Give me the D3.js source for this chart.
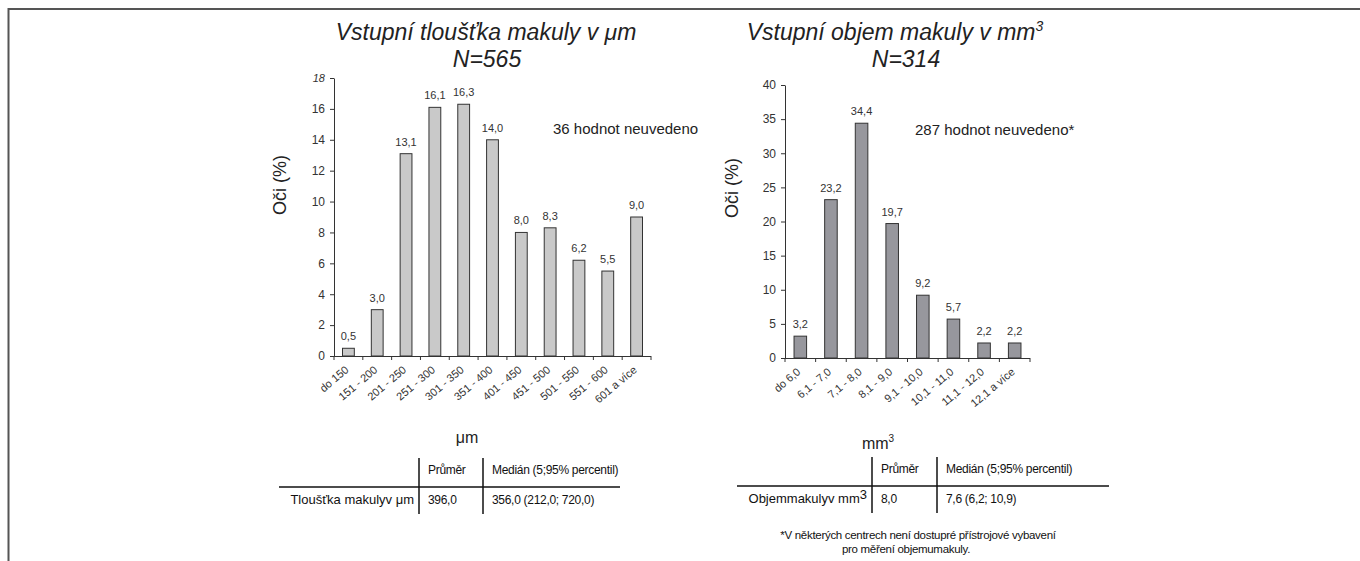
<!DOCTYPE html>
<html>
<head>
<meta charset="utf-8">
<script src="https://cdn.jsdelivr.net/npm/d3@7"></script>
<style>
  body { margin: 0; background: #fff; }
  svg { display: block; font-family: "Liberation Sans", Arial, sans-serif; }
  .axis path, .axis line { stroke: #333; }
  .axis text { fill: #333; }
</style>
</head>
<body>
<svg id="chart" width="1360" height="561"></svg>
<script>
// data
var thicknessCats = ["do 150", "151 - 200", "201 - 250", "251 - 300", "301 - 350", "351 - 400",
                     "401 - 450", "451 - 500", "501 - 550", "551 - 600", "601 a více"];
var thicknessVals = [0.5, 3.0, 13.1, 16.1, 16.3, 14.0, 8.0, 8.3, 6.2, 5.5, 9.0];
var thicknessTicks = [0, 2, 4, 6, 8, 10, 12, 14, 16, 18];

var volumeCats = ["do 6,0", "6,1 - 7,0", "7,1 - 8,0", "8,1 - 9,0", "9,1 - 10,0",
                  "10,1 - 11,0", "11,1 - 12,0", "12,1 a více"];
var volumeVals = [3.2, 23.2, 34.4, 19.7, 9.2, 5.7, 2.2, 2.2];
var volumeTicks = [0, 5, 10, 15, 20, 25, 30, 35, 40];

var svg = d3.select("#chart");

// frame
svg.append("path")
  .attr("d", "M8.5,561 V9 H1360")
  .attr("fill", "none")
  .attr("stroke", "#555")
  .attr("stroke-width", 2);

var fmt = function(d) { return d.toFixed(1).replace(".", ","); };

// draw one bar chart
function drawChart(cfg) {
  var x = d3.scaleBand().domain(cfg.cats).range([cfg.left, cfg.right]);
  var y = d3.scaleLinear().domain([0, cfg.ticks[cfg.ticks.length - 1]]).range([cfg.bottom, cfg.top]);
  var bw = x.bandwidth() * 0.41;

  // y axis
  var ya = svg.append("g")
    .attr("class", "axis")
    .attr("transform", "translate(" + cfg.left + ",0)")
    .call(d3.axisLeft(y).tickValues(cfg.ticks).tickSize(4).tickSizeOuter(0).tickPadding(5));
  ya.selectAll("text").style("font-size", "12px").style("font-family", "Liberation Sans, Arial, sans-serif");
  if (cfg.italicTop) {
    ya.selectAll(".tick text").filter(function(d) { return d === cfg.ticks[cfg.ticks.length - 1]; })
      .style("font-style", "italic").style("font-size", "11px");
  }

  // x axis: ticks at band boundaries
  var xa = svg.append("g").attr("class", "axis");
  xa.append("line")
    .attr("x1", cfg.left).attr("x2", cfg.right)
    .attr("y1", cfg.bottom + 0.5).attr("y2", cfg.bottom + 0.5);
  xa.selectAll(".xt")
    .data(cfg.cats.concat([null]))
    .enter().append("line")
    .attr("x1", function(d, i) { return cfg.left + i * x.step(); })
    .attr("x2", function(d, i) { return cfg.left + i * x.step(); })
    .attr("y1", cfg.bottom).attr("y2", cfg.bottom + 4);
  xa.selectAll(".xl")
    .data(cfg.cats)
    .enter().append("text")
    .attr("transform", function(d) {
      return "translate(" + (x(d) + x.bandwidth() / 2 + 1) + "," + (cfg.bottom + 15) + ") rotate(-40)";
    })
    .attr("text-anchor", "end")
    .style("font-size", "11px")
    .attr("fill", "#333")
    .text(function(d) { return d; });

  // bars
  svg.append("g").selectAll("rect")
    .data(cfg.vals)
    .enter().append("rect")
    .attr("x", function(d, i) { return x(cfg.cats[i]) + (x.bandwidth() - bw) / 2; })
    .attr("y", function(d) { return y(d); })
    .attr("width", bw)
    .attr("height", function(d) { return cfg.bottom - y(d); })
    .attr("fill", cfg.fill)
    .attr("stroke", "#333")
    .attr("stroke-width", 1);

  // value labels
  svg.append("g").selectAll("text")
    .data(cfg.vals)
    .enter().append("text")
    .attr("x", function(d, i) { return x(cfg.cats[i]) + x.bandwidth() / 2; })
    .attr("y", function(d) { return y(d) - 8; })
    .attr("text-anchor", "middle")
    .attr("fill", "#333")
    .style("font-size", "11px")
    .text(fmt);

  // y title
  svg.append("text")
    .attr("transform", "translate(" + cfg.yTitleX + "," + cfg.yTitleY + ") rotate(-90)")
    .attr("text-anchor", "middle")
    .style("font-size", "18px")
    .attr("fill", "#222")
    .text("Oči (%)");
}

drawChart({
  cats: thicknessCats, vals: thicknessVals, ticks: thicknessTicks,
  left: 334, right: 651, top: 78, bottom: 356, fill: "#c9c9c9", italicTop: true,
  yTitleX: 286, yTitleY: 185
});
drawChart({
  cats: volumeCats, vals: volumeVals, ticks: volumeTicks,
  left: 785, right: 1030, top: 85, bottom: 358, fill: "#97979d", italicTop: false,
  yTitleX: 738, yTitleY: 188
});

// titles
function title(x, y, txt, sup) {
  var t = svg.append("text")
    .attr("x", x).attr("y", y)
    .attr("text-anchor", "middle")
    .style("font-size", "23px")
    .style("font-style", "italic")
    .attr("fill", "#222")
    .text(txt);
  if (sup) t.append("tspan").attr("dy", -9).style("font-size", "14px").text(sup);
}
title(486, 40, "Vstupní tloušťka makuly v μm");
title(487, 67, "N=565");
title(895, 40, "Vstupní objem makuly v mm", "3");
title(906, 67, "N=314");

// notes
svg.append("text").attr("x", 553).attr("y", 134).style("font-size", "15px").attr("fill", "#222")
  .text("36 hodnot neuvedeno");
svg.append("text").attr("x", 915).attr("y", 135).style("font-size", "15px").attr("fill", "#222")
  .text("287 hodnot neuvedeno*");

// x titles
svg.append("text").attr("x", 467).attr("y", 443).attr("text-anchor", "middle")
  .style("font-size", "16px").attr("fill", "#222").text("μm");
svg.append("text").attr("x", 878).attr("y", 449).attr("text-anchor", "middle")
  .style("font-size", "16px").attr("fill", "#222")
  .text("mm").append("tspan").attr("dy", -7).style("font-size", "10px").text("3");

// summary tables
function table(cfg) {
  var g = svg.append("g").style("font-size", "12px").attr("fill", "#111").style("letter-spacing", "-0.3px");
  g.append("line").attr("x1", cfg.x0).attr("x2", cfg.x1).attr("y1", cfg.hy).attr("y2", cfg.hy)
    .attr("stroke", "#111").attr("stroke-width", 1.5);
  [cfg.c1, cfg.c2].forEach(function(cx) {
    g.append("line").attr("x1", cx).attr("x2", cx).attr("y1", cfg.vy0).attr("y2", cfg.vy1)
      .attr("stroke", "#111").attr("stroke-width", 1.5);
  });
  g.append("text").attr("x", cfg.c1 + 9).attr("y", cfg.hy - 13).text("Průměr");
  g.append("text").attr("x", cfg.c2 + 9).attr("y", cfg.hy - 13).text("Medián (5;95% percentil)");
  var lab = g.append("text").attr("x", cfg.c1 - 5).attr("y", cfg.hy + 17).attr("text-anchor", "end")
    .style("font-size", "13px").style("letter-spacing", "0px").text(cfg.label);
  if (cfg.sup) lab.append("tspan").attr("dy", -4).text(cfg.sup);
  g.append("text").attr("x", cfg.c1 + 9).attr("y", cfg.hy + 17).text(cfg.mean);
  g.append("text").attr("x", cfg.c2 + 9).attr("y", cfg.hy + 17).text(cfg.median);
}
table({ x0: 279, x1: 620, hy: 487, c1: 419, c2: 483, vy0: 458, vy1: 514,
        label: "Tloušťka makulyv μm", mean: "396,0", median: "356,0 (212,0; 720,0)" });
table({ x0: 737, x1: 1109, hy: 486, c1: 872, c2: 937, vy0: 457, vy1: 513,
        label: "Objemmakulyv mm", sup: "3", mean: "8,0", median: "7,6 (6,2; 10,9)" });

// footnote
svg.append("text").attr("x", 918).attr("y", 539).attr("text-anchor", "middle")
  .style("font-size", "11.5px").style("letter-spacing", "-0.3px").attr("fill", "#111")
  .text("*V některých centrech není dostupré přístrojové vybavení");
svg.append("text").attr("x", 906).attr("y", 553).attr("text-anchor", "middle")
  .style("font-size", "11.5px").style("letter-spacing", "-0.3px").attr("fill", "#111")
  .text("pro měření objemumakuly.");
</script>
</body>
</html>
